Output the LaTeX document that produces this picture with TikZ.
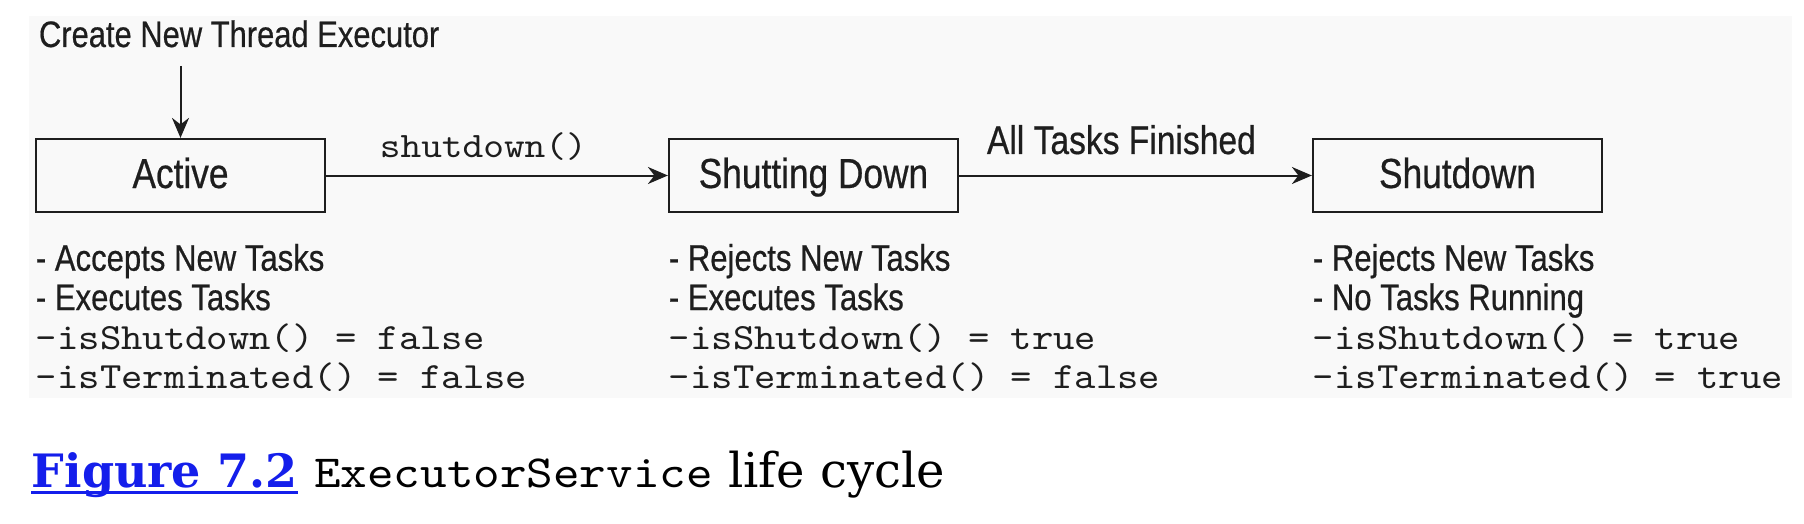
\documentclass[tikz,border=0pt]{standalone}
\usepackage{fontspec}
\newfontfamily\diagfont[FakeStretch=0.84,FakeBold=0.5]{Liberation Sans}
\newfontfamily\codefont[FakeStretch=1.1]{lmmono10-regular.otf}
\newfontfamily\capfont{DejaVu Serif}
\usetikzlibrary{arrows.meta,positioning}
\definecolor{panelgray}{RGB}{249,249,249}
\definecolor{linkblue}{RGB}{20,30,235}
\definecolor{ink}{RGB}{30,30,30}

\begin{document}
\begin{tikzpicture}[>={Stealth[length=10pt,width=8.5pt]},on grid,auto,line width=1pt,ink,
    phase/.style={draw,line width=1.1pt,minimum width=144.5pt,minimum height=36.5pt,
      text height=15pt,text depth=2.5pt,font=\diagfont\fontsize{21}{25}\selectfont},
    notes/.style={anchor=north west,align=left,inner sep=0pt,font=\diagfont\fontsize{18.5}{19.7}\selectfont},
    trans/.style={inner sep=0pt,text depth=0pt,pos=0.46}]
    \useasboundingbox (0,0) rectangle (902pt,-262pt);
    \fill[panelgray] (14.5pt,-8pt) rectangle (896pt,-199pt);

    \node[phase] (active) at (90.25pt,-87.75pt) {Active};
    \node[phase] (stopping) [right=316.5pt of active] {Shutting Down};
    \node[phase] (stopped) [right=322pt of stopping] {Shutdown};

    \node[anchor=base west,inner sep=0pt,font=\diagfont\fontsize{18.4}{20}\selectfont] (create) at (19pt,-23.5pt) {Create New Thread Executor};
    \coordinate (entry) at ([yshift=36pt]active.north);
    \draw[->] (entry) -- (active);

    \path[->]
    (active) edge node[trans,above=8.75pt,font=\codefont\fontsize{17.9}{20}\selectfont] {shutdown()} (stopping)
    (stopping) edge node[trans,above=10.25pt,font=\diagfont\fontsize{20}{24}\selectfont] {All Tasks Finished} (stopped);

    \node[below=14.9pt of active.south west,notes] (activenotes) {- Accepts New Tasks\\- Executes Tasks\\{\codefont -isShutdown() = false}\\{\codefont -isTerminated() = false}};
    \node[below=14.9pt of stopping.south west,notes] (stoppingnotes) {- Rejects New Tasks\\- Executes Tasks\\{\codefont -isShutdown() = true}\\{\codefont -isTerminated() = false}};
    \node[below=14.9pt of stopped.south west,notes] (stoppednotes) {- Rejects New Tasks\\- No Tasks Running\\{\codefont -isShutdown() = true}\\{\codefont -isTerminated() = true}};

    \node[anchor=base west,inner sep=0pt,text=linkblue,font=\capfont\bfseries\fontsize{23}{28}\selectfont] (fig) at (15.5pt,-243.5pt) {Figure 7.2};
    \draw[linkblue,line width=1.5pt] ([yshift=-2.5pt]fig.base west) -- ([yshift=-2.5pt]fig.base east);
    \node[anchor=base west,inner sep=0pt,text=black,font=\capfont\fontsize{24}{28}\selectfont] (figtitle) at ([xshift=7.5pt]fig.base east) {{\codefont\fontsize{23}{28}\selectfont ExecutorService} life cycle};
\end{tikzpicture}
\end{document}
